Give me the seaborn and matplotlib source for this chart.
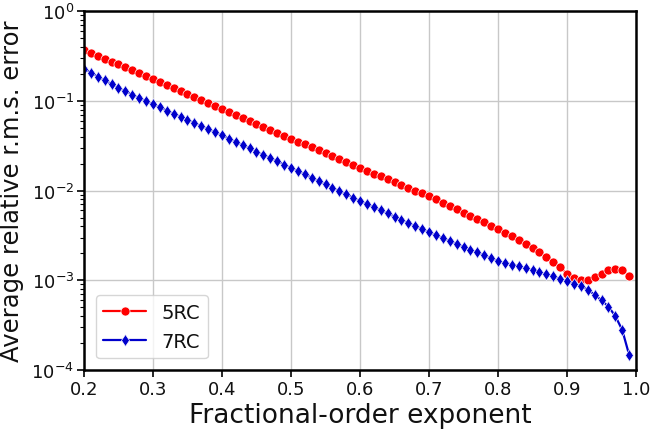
import numpy as np
import pandas as pd
import matplotlib
matplotlib.use("Agg")
import matplotlib.pyplot as plt
import seaborn as sns

exponent = [round(0.20 + 0.01 * i, 2) for i in range(80)]

rc5 = [0.372, 0.344, 0.319, 0.296, 0.274, 0.254, 0.236, 0.218, 0.202, 0.187,
       0.174, 0.161, 0.149, 0.138, 0.128, 0.119, 0.110, 0.102, 0.0946, 0.0877,
       0.0813, 0.0753, 0.0698, 0.0647, 0.0600, 0.0556, 0.0515, 0.0478, 0.0443, 0.0410,
       0.0380, 0.0352, 0.0327, 0.0303, 0.0281, 0.0260, 0.0241, 0.0223, 0.0207, 0.0192,
       0.0178, 0.0166, 0.0154, 0.0144, 0.0134, 0.0124, 0.0116, 0.0108, 0.0100, 0.00935,
       0.00871, 0.00800, 0.00735, 0.00675, 0.00619, 0.00569, 0.00522, 0.00480, 0.00441, 0.00405,
       0.00372, 0.00339, 0.00308, 0.00279, 0.00253, 0.00229, 0.00206, 0.00184, 0.00162, 0.00140,
       0.00119, 0.00105, 0.00100, 0.00102, 0.00109, 0.00119, 0.00129, 0.00135, 0.00131, 0.00112]

rc7 = [0.229, 0.206, 0.186, 0.169, 0.154, 0.140, 0.128, 0.117, 0.108, 0.0993,
       0.0916, 0.0845, 0.0780, 0.0721, 0.0667, 0.0617, 0.0569, 0.0525, 0.0484, 0.0447,
       0.0412, 0.0379, 0.0349, 0.0321, 0.0296, 0.0272, 0.0251, 0.0231, 0.0212, 0.0195,
       0.0180, 0.0165, 0.0152, 0.0139, 0.0128, 0.0117, 0.0108, 0.00991, 0.00910, 0.00836,
       0.00767, 0.00708, 0.00653, 0.00603, 0.00556, 0.00513, 0.00473, 0.00437, 0.00403, 0.00372,
       0.00343, 0.00318, 0.00296, 0.00275, 0.00255, 0.00237, 0.00220, 0.00205, 0.00190, 0.00177,
       0.00164, 0.00157, 0.00150, 0.00143, 0.00136, 0.00130, 0.00123, 0.00117, 0.00111, 0.00104,
       0.00098, 0.00092, 0.00086, 0.00079, 0.00069, 0.00060, 0.00051, 0.00040, 0.00028, 0.000148]

series_names = ["5RC", "7RC"]
x_ticks = [0.2, 0.3, 0.4, 0.5, 0.6, 0.7, 0.8, 0.9, 1.0]

df = pd.DataFrame({
    "x": exponent * 2,
    "y": rc5 + rc7,
    "series": [series_names[0]] * len(rc5) + [series_names[1]] * len(rc7),
})

sns.set_style("whitegrid")
plt.rcParams["font.family"] = ["DejaVu Sans"]
plt.rcParams["text.color"] = "#111111"
plt.rcParams["axes.labelcolor"] = "#111111"
plt.rcParams["xtick.color"] = "#111111"
plt.rcParams["ytick.color"] = "#111111"

fig = plt.figure(figsize=(6.51, 4.31), dpi=100)
ax = fig.add_axes([0.129, 0.139, 0.848, 0.833])

sns.lineplot(data=df, x="x", y="y", hue="series", style="series",
             palette={"5RC": "#ff0000", "7RC": "#0000cc"},
             markers={"5RC": "o", "7RC": "d"}, dashes=False,
             markersize=6.5, markeredgewidth=0.5, linewidth=1.6, ax=ax)

ax.set_yscale("log")
ax.set_xlim(0.2, 1.0)
ax.set_ylim(1e-4, 1)
ax.set_xticks(x_ticks)
ax.set_xticklabels([f"{t:.1f}" for t in x_ticks])
ax.grid(True, which="major", color="#c8c8c8", linewidth=1)
ax.grid(False, which="minor")
for s in ax.spines.values():
    s.set_color("black")
    s.set_linewidth(1.8)
ax.tick_params(axis="both", which="major", direction="out", length=5, width=1.2,
               color="black", labelsize=13, left=True, bottom=True, pad=2)
ax.tick_params(axis="y", which="minor", direction="out", length=3, width=0.8,
               color="black", left=True)
ax.set_xlabel("Fractional-order exponent", fontsize=19, labelpad=3)
ax.set_ylabel("Average relative r.m.s. error", fontsize=17.5, labelpad=5)

leg = ax.legend(loc="lower left", fontsize=14, frameon=True, borderaxespad=0.6,
                handlelength=2.2)
leg.get_frame().set_edgecolor("#cccccc")

fig.savefig("out.png", dpi=100)
